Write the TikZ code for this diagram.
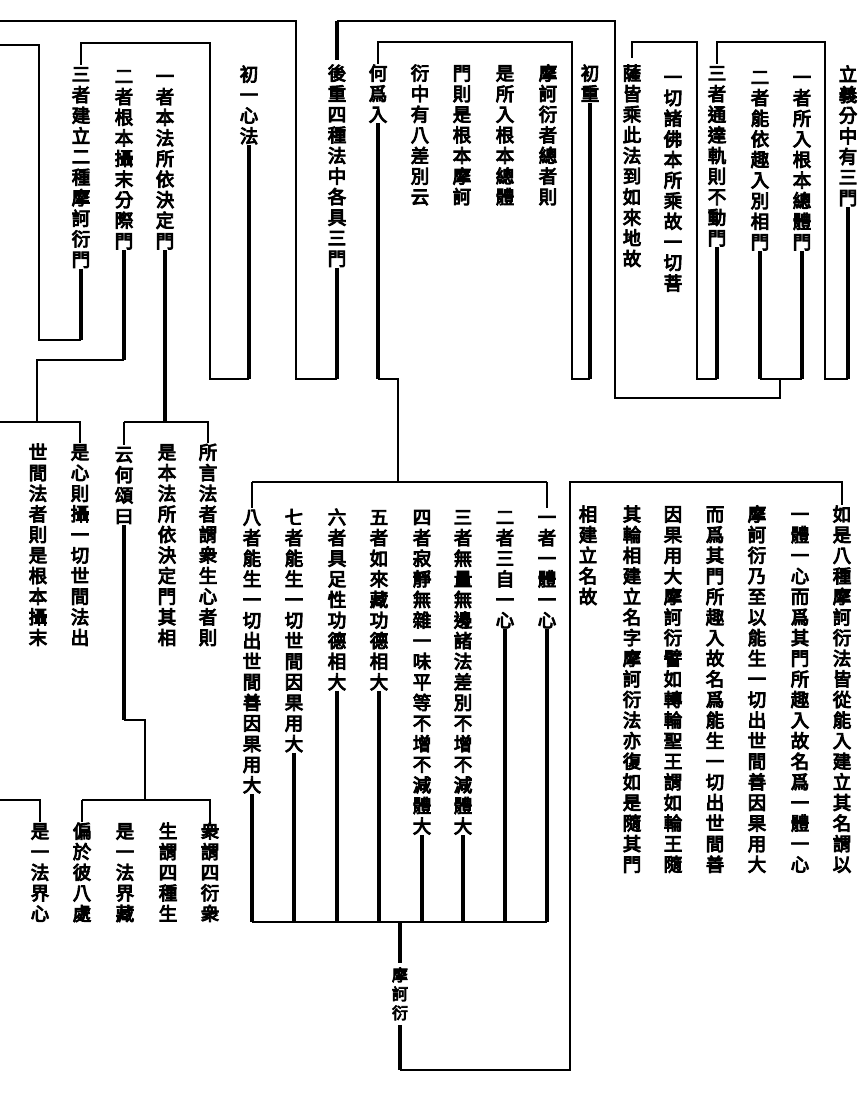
\documentclass[tikz,border=0pt]{standalone}
\usepackage{fontspec}
\newfontfamily\cjk{Noto Sans CJK TC}[FakeBold=5]
\def\vsbs{20.6pt}
\newcommand\vs[1]{\vbox{\baselineskip=\vsbs\lineskiplimit=-30pt\lineskip=0pt\vsA#1\relax}}
\def\vsA#1{\ifx\relax#1\else\hbox to 1.04em{\hss\vrule height .86em depth .1em width 0pt#1\hss}\expandafter\vsA\fi}
\begin{document}
\begin{tikzpicture}[x=1pt,y=-1pt,
  vt/.style={anchor=north,inner sep=0pt,font=\cjk\fontsize{18.5pt}{20.6pt}\selectfont},
  vts/.style={anchor=north,inner sep=0pt,font=\cjk\fontsize{16pt}{19pt}\selectfont},
  ln/.style={line width=1.3pt,line join=miter},
  stem/.style={line width=3.2pt}]
\useasboundingbox (0,0) rectangle (866,1093);
\fill[white] (0,0) rectangle (866,1093);
% ---------- top row ----------
\node[vt] (a1) at (848,65) {\vs{立義分中有三門}};
\node[vt] (a2) at (802,68) {\vs{一者所入根本總體門}};
\node[vt] (a3) at (760,68) {\vs{二者能依趣入別相門}};
\node[vt] (a4) at (717,64) {\vs{三者通達軌則不動門}};
\node[vt] (a5) at (673,68) {\vs{一切諸佛本所乘故一切菩}};
\node[vt] (a6) at (632,64) {\vs{薩皆乘此法到如來地故}};
\node[vt] (a7) at (590,64) {\vs{初重}};
\node[vt] (b1) at (548,64) {\vs{摩訶衍者總者則}};
\node[vt] (b2) at (505,64) {\vs{是所入根本總體}};
\node[vt] (b3) at (462,64) {\vs{門則是根本摩訶}};
\node[vt] (b4) at (420,64) {\vs{衍中有八差別云}};
\node[vt] (b5) at (378,64) {\vs{何爲入}};
\node[vt] (b6) at (337,64) {\vs{後重四種法中各具三門}};
\node[vt] (c1) at (249,65) {\vs{初一心法}};
\node[vt] (c2) at (165,67) {\vs{一者本法所依決定門}};
\node[vt] (c3) at (124,67) {\vs{二者根本攝末分際門}};
\node[vt] (c4) at (81,65) {\vs{三者建立二種摩訶衍門}};
% ---------- eight items ----------
\node[vt] (d1) at (547,508) {\vs{一者一體一心}};
\node[vt] (d2) at (505,508) {\vs{二者三自一心}};
\node[vt] (d3) at (463,508) {\vs{三者無量無邊諸法差別不增不減體大}};
\node[vt] (d4) at (422,508) {\vs{四者寂靜無雜一味平等不增不減體大}};
\node[vt] (d5) at (379,508) {\vs{五者如來藏功德相大}};
\node[vt] (d6) at (337,508) {\vs{六者具足性功德相大}};
\node[vt] (d7) at (294,508) {\vs{七者能生一切世間因果用大}};
\node[vt] (d8) at (252,508) {\vs{八者能生一切出世間善因果用大}};
\node[vts] (h) at (400,967) {\def\vsbs{19pt}\vs{摩訶衍}};
% ---------- commentary right bottom ----------
\node[vt] (e1) at (842,505) {\vs{如是八種摩訶衍法皆從能入建立其名謂以}};
\node[vt] (e2) at (800,505) {\vs{一體一心而爲其門所趣入故名爲一體一心}};
\node[vt] (e3) at (757,505) {\vs{摩訶衍乃至以能生一切出世間善因果用大}};
\node[vt] (e4) at (715,505) {\vs{而爲其門所趣入故名爲能生一切出世間善}};
\node[vt] (e5) at (673,505) {\vs{因果用大摩訶衍譬如轉輪聖王謂如輪王隨}};
\node[vt] (e6) at (632,505) {\vs{其輪相建立名字摩訶衍法亦復如是隨其門}};
\node[vt] (e7) at (588,505) {\vs{相建立名故}};
% ---------- left middle ----------
\node[vt] (f1) at (208,443) {\vs{所言法者謂衆生心者則}};
\node[vt] (f2) at (167,443) {\vs{是本法所依決定門其相}};
\node[vt] (f3) at (124,445) {\vs{云何頌曰}};
\node[vt] (f4) at (80,443) {\vs{是心則攝一切世間法出}};
\node[vt] (f5) at (38,443) {\vs{世間法者則是根本攝末}};
% ---------- left bottom ----------
\node[vt] (g1) at (210,822) {\vs{衆謂四衍衆}};
\node[vt] (g2) at (168,822) {\vs{生謂四種生}};
\node[vt] (g3) at (125,822) {\vs{是一法界藏}};
\node[vt] (g4) at (82,822) {\vs{偏於彼八處}};
\node[vt] (g5) at (40,822) {\vs{是一法界心}};
% ---------- reference coordinates ----------
\coordinate (rA) at (0,379);
\coordinate (rB) at (0,398);
\coordinate (t0) at (0,21);
\coordinate (t1) at (0,42);
\coordinate (r8) at (0,482);
\coordinate (b8) at (0,922);
% ---------- connectors ----------
\draw[stem] (a1.south) -- (a1.south |- rA);
\draw[ln] (a1.south |- rA) -- (825,379) |- (a4.north |- t1) -- (a4.north);
\draw[stem] (a2.south) -- (a2.south |- rA);
\draw[stem] (a3.south) -- (a3.south |- rA);
\draw[ln] (a3.south |- rA) -- (a2.south |- rA);
\draw[ln] (780,379) -- (780,398) -- (615,398) -- (615,21) -- (b6.north |- t0);
\draw[stem] (b6.north |- t0) -- ([yshift=4pt]b6.north);
\draw[stem] (a4.south) -- (a4.south |- rA);
\draw[ln] (a4.south |- rA) -- (697,379) |- (a6.north |- t1) -- ([yshift=6pt]a6.north);
\draw[stem] (a7.south) -- (a7.south |- rA);
\draw[ln] (a7.south |- rA) -- (572,379) |- (b5.north |- t1) -- (b5.north);
\draw[stem] (b5.south) -- (b5.south |- rA);
\draw[ln] (b5.south |- rA) -- (398,379) -- (398,482);
\draw[stem] (b6.south) -- (b6.south |- rA);
\draw[ln] (b6.south |- rA) -- (296,379) -- (296,21) -- (t0);
\draw[stem] (c1.south) -- (c1.south |- rA);
\draw[ln] (c1.south |- rA) -- (210,379) |- (c4.north |- 0,43) -- (c4.north);
\draw[stem] (c2.south) -- (165,422);
\draw[ln] (f3.north |- 0,422) -- (f1.north |- 0,422) -- (f1.north);
\draw[ln] (f3.north |- 0,422) -- (f3.north);
\draw[stem] (c3.south) -- (124,360);
\draw[ln] (124,360) -- (37,360) -- (37,422);
\draw[ln] (0,422) -- (f4.north |- 0,422) -- (f4.north);
\draw[stem] (c4.south) -- (81,340);
\draw[ln] (81,340) -- (39,340) -- (39,45) -- (0,45);
\draw[stem] (f3.south) -- (124,720);
\draw[ln] (124,720) -- (145,720) -- (145,800);
\draw[ln] (g4.north |- 0,800) -- (g1.north |- 0,800) -- (g1.north);
\draw[ln] (g4.north |- 0,800) -- (g4.north);
\draw[ln] (0,800) -- (g5.north |- 0,800) -- (g5.north);
\draw[ln] (d8.north |- r8) -- (d1.north |- r8);
\draw[ln] (d1.north |- r8) -- (d1.north);
\draw[ln] (d8.north |- r8) -- (d8.north);
\foreach \n in {d1,d2,d3,d4,d5,d6,d7,d8} {\draw[stem] (\n.south) -- (\n.south |- b8);}
\draw[ln] (d8.south |- b8) -- (d1.south |- b8);
\draw[stem] (h.north |- b8) -- ([yshift=4pt]h.north);
\draw[stem] ([yshift=-4pt]h.south) -- (400,1070);
\draw[ln] (400,1070) -- (570,1070) -- (570,482) -- (e1.north |- r8) -- (e1.north);
\end{tikzpicture}
\end{document}
